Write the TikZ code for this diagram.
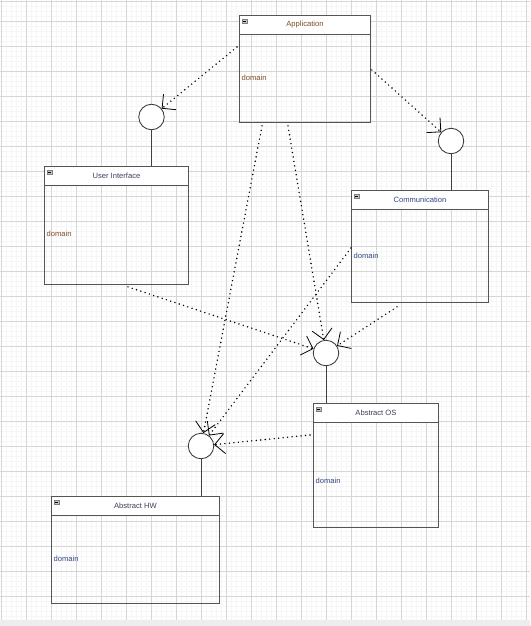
\documentclass[tikz,border=0pt]{standalone}
\usepackage{fontspec}
\setmainfont{Liberation Sans}
\usetikzlibrary{arrows.meta,calc}
\definecolor{gridminor}{RGB}{246,246,246}
\definecolor{gridmajor}{RGB}{214,214,214}
\definecolor{boxline}{RGB}{85,85,85}
\definecolor{brownText}{RGB}{125,78,38}
\definecolor{blueText}{RGB}{50,72,130}
\definecolor{titleText}{RGB}{62,62,92}
\tikzset{
  umlbox/.style={draw=boxline, line width=0.9pt, anchor=north west, inner sep=0pt},
  iface/.style={circle, draw=black!80, fill=white, line width=0.8pt, minimum size=25.5pt, inner sep=0pt},
  stem/.style={draw=black!75, line width=0.9pt},
  uses/.style={line width=1.6pt, line cap=round, dash pattern=on 0pt off 4.5pt,
    -{Straight Barb[length=10pt,width=20pt,line width=0.8pt]}},
  compname/.style={font=\fontsize{7.6}{9}\selectfont},
  domtext/.style={font=\fontsize{7.6}{9}\selectfont, anchor=west, inner sep=0pt},
}
\begin{document}
\begin{tikzpicture}[x=1pt,y=-1pt]
    \useasboundingbox (0,0) rectangle (530,626);
    % background grid
    \foreach \x in {0,...,105}{\draw[gridminor,line width=0.5pt] (1.7+5*\x,0)--(1.7+5*\x,620);}
    \foreach \y in {0,...,123}{\draw[gridminor,line width=0.5pt] (0,1.5+5*\y)--(530,1.5+5*\y);}
    \foreach \x in {0,...,21}{\draw[gridmajor,line width=0.6pt] (1.7+25*\x,0)--(1.7+25*\x,620);}
    \foreach \y in {0,...,23}{\draw[gridmajor,line width=0.6pt] (0,21.5+25*\y)--(530,21.5+25*\y);}
    \draw[gridmajor,line width=0.6pt] (0,1.5)--(530,1.5);
    \fill[gray!14] (0,620) rectangle (530,626);

    % components
    \node[umlbox, minimum width=131pt, minimum height=107pt] (app) at (239,15) {};
    \node[umlbox, minimum width=144pt, minimum height=118pt] (ui) at (44,166) {};
    \node[umlbox, minimum width=137pt, minimum height=112pt] (comm) at (351,190) {};
    \node[umlbox, minimum width=125pt, minimum height=124pt] (os) at (313,403) {};
    \node[umlbox, minimum width=168pt, minimum height=107pt] (hw) at (51,496) {};
    \foreach \n/\t/\tc/\d/\dc in {app/Application/brownText/63/brownText,
        ui/User Interface/titleText/68/brownText,
        comm/Communication/blueText/66/blueText,
        os/Abstract OS/titleText/78/blueText,
        hw/Abstract HW/titleText/63/blueText}{
    \draw[draw=boxline, line width=0.9pt, fill=white] (\n.north west) rectangle ([yshift=-19pt]\n.north east);
    \draw[draw=gray, fill=gray!45, line width=0.4pt] ([xshift=3pt,yshift=-4pt]\n.north west) rectangle ++(5.5,4.5);
    \draw[line width=0.6pt] ([xshift=4.2pt,yshift=-6.2pt]\n.north west) -- ++(3,0);
    \node[compname, text=\tc] at ([yshift=-10pt]\n.north) {\t};
    \node[domtext, text=\dc] at ([xshift=2.5pt,yshift=-\d pt]\n.north west) {domain};}

    % provided interfaces
    \node[iface] (c1) at (151.5,117) {};
    \node[iface] (c2) at (451,141) {};
    \node[iface] (c3) at (326,353) {};
    \node[iface] (c4) at (201,446) {};
    \draw[stem] (c1.south) -- (c1.south |- ui.north);
    \draw[stem] (c2.south) -- (c2.south |- comm.north);
    \draw[stem] (c3.south) -- (c3.south |- os.north);
    \draw[stem] (c4.south) -- (c4.south |- hw.north);

    % dependencies
    \draw[uses] ($(app.north west)+(-2,32)$) -- (c1);
    \draw[uses] ($(app.north east)+(1,55)$) -- (c2);
    \draw[uses] ($(app.south west)+(23,3)$) -- (c4);
    \draw[uses] ($(app.south west)+(49,3)$) -- (c3);
    \draw[uses] ($(ui.south west)+(84,2)$) -- (c3);
    \draw[uses] ($(comm.north west)+(0,58)$) -- (c4);
    \draw[uses] ($(comm.south west)+(46,4)$) -- (c3);
    \draw[uses] ($(os.north west)+(-3,32)$) -- (c4);
\end{tikzpicture}
\end{document}
